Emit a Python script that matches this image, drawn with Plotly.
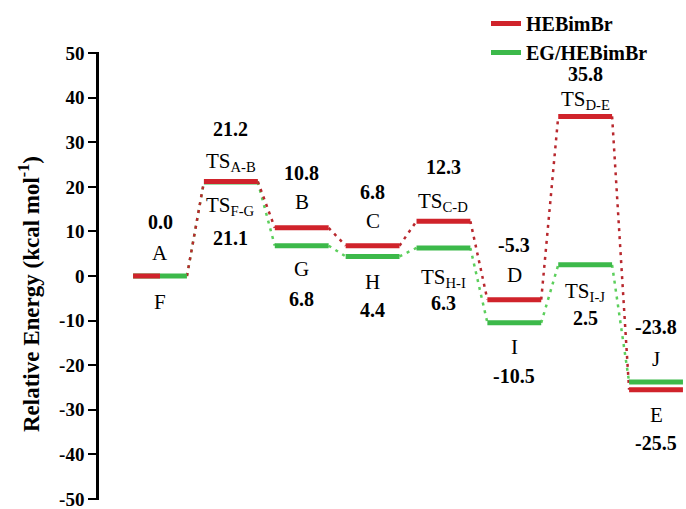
import plotly.graph_objects as go

# ---- data ----
stages = [0, 1, 2, 3, 4, 5, 6, 7]
red_energy = [0.0, 21.2, 10.8, 6.8, 12.3, -5.3, 35.8, -25.5]
red_names = ["A", "TS<sub>A-B</sub>", "B", "C", "TS<sub>C-D</sub>", "D", "TS<sub>D-E</sub>", "E"]
green_energy = [0.0, 21.1, 6.8, 4.4, 6.3, -10.5, 2.5, -23.8]
green_names = ["F", "TS<sub>F-G</sub>", "G", "H", "TS<sub>H-I</sub>", "I", "TS<sub>I-J</sub>", "J"]
y_ticks = [50, 40, 30, 20, 10, 0, -10, -20, -30, -40, -50]
series_names = ["HEBimBr", "EG/HEBimBr"]

# ---- styles ----
RED = "#d0232b"
GREEN = "#3cb94a"
RED_DOT = "#b8282e"
GREEN_DOT = "#5ccf5c"
HALF = 0.38
FONT = "Liberation Serif"
# label placement (px): +1 above level, -1 below level
red_side = [1, 1, 1, 1, 1, 1, 1, -1]
green_side = [-1, -1, -1, -1, -1, -1, -1, 1]
red_value_gap = [54, 53, 55, 54, 54, 55, 42, 53]
red_name_gap = [23, 20, 26, 25, 19, 25, 16, 25]
green_value_gap = [54, 56, 53, 54, 55, 53, 53, 55]
green_name_gap = [26, 24, 23, 26, 30, 24, 27, 23]
green_value_shown = [False, True, True, True, True, True, True, True]


def level_xy(energy, half_stages=()):
    xs, ys = [], []
    for s, e in zip(stages, energy):
        right = s if s in half_stages else s + HALF
        xs += [s - HALF, right, None]
        ys += [e, e, None]
    return xs, ys


def connector_xy(energy):
    xs, ys = [], []
    for i in range(len(stages) - 1):
        xs += [stages[i] + HALF, stages[i + 1] - HALF, None]
        ys += [energy[i], energy[i + 1], None]
    return xs, ys


fig = go.Figure()

gx, gy = connector_xy(green_energy)
fig.add_trace(go.Scatter(x=gx, y=gy, mode="lines", showlegend=False, hoverinfo="skip",
                         line=dict(color=GREEN_DOT, width=2.5, dash="3px,5px")))
rx, ry = connector_xy(red_energy)
fig.add_trace(go.Scatter(x=rx, y=ry, mode="lines", showlegend=False, hoverinfo="skip",
                         line=dict(color=RED_DOT, width=2.5, dash="3px,5px")))

gx, gy = level_xy(green_energy)
fig.add_trace(go.Scatter(x=gx, y=gy, mode="lines", name=series_names[1], legendrank=2,
                         line=dict(color=GREEN, width=5)))
rx, ry = level_xy(red_energy, half_stages={0})
fig.add_trace(go.Scatter(x=rx, y=ry, mode="lines", name=series_names[0], legendrank=1,
                         line=dict(color=RED, width=5)))

annotations = []


def add_labels(energy, names, side, vgap, ngap, shown=None):
    shown = shown or [True] * len(stages)
    for s, e, n, sd, vg, ng, sh in zip(stages, energy, names, side, vgap, ngap, shown):
        if sh:
            annotations.append(dict(x=s, y=e, xref="x", yref="y", text=f"{e:.1f}", showarrow=False,
                                    yshift=sd * vg,
                                    font=dict(family=FONT, size=20, color="black", weight="bold")))
        annotations.append(dict(x=s, y=e, xref="x", yref="y", text=n, showarrow=False,
                                yshift=sd * ng,
                                font=dict(family=FONT, size=21, color="black")))


add_labels(red_energy, red_names, red_side, red_value_gap, red_name_gap)
add_labels(green_energy, green_names, green_side, green_value_gap, green_name_gap, green_value_shown)

W, H = 686, 509
L, R, T, B = 99, 0, 52, 9
pw, ph = W - L - R, H - T - B

annotations.append(dict(x=(29 - L) / pw, y=(H - B - 294) / ph, xref="paper", yref="paper",
                        text="Relative Energy (kcal mol<sup>-1</sup>)",
                        showarrow=False, textangle=-90, xanchor="center", yanchor="middle",
                        font=dict(family=FONT, size=23, color="black", weight="bold")))

fig.update_layout(
    width=W, height=H,
    margin=dict(l=L, r=R, t=T, b=B),
    plot_bgcolor="white", paper_bgcolor="white",
    showlegend=True,
    legend=dict(x=(486 - L) / pw, y=(H - B - 4) / ph, xanchor="left", yanchor="top",
                bgcolor="rgba(0,0,0,0)", font=dict(family=FONT, size=20, color="black", weight="bold"),
                tracegroupgap=0),
    annotations=annotations,
    xaxis=dict(range=[-0.861, 7.423], visible=False, fixedrange=True),
    yaxis=dict(range=[-50.25, 50.25], tickvals=y_ticks, ticktext=[str(v) for v in y_ticks],
               showline=True, linecolor="black", linewidth=2.5, ticks="outside", ticklen=8,
               tickwidth=2, tickcolor="black", showgrid=False, zeroline=False,
               ticklabeloverflow="allow",
               tickfont=dict(family=FONT, size=19, color="black", weight="bold")),
)

fig.write_html("out.html", config={"displayModeBar": False},
               post_script="document.body.style.margin='0';document.body.style.overflow='hidden';")
